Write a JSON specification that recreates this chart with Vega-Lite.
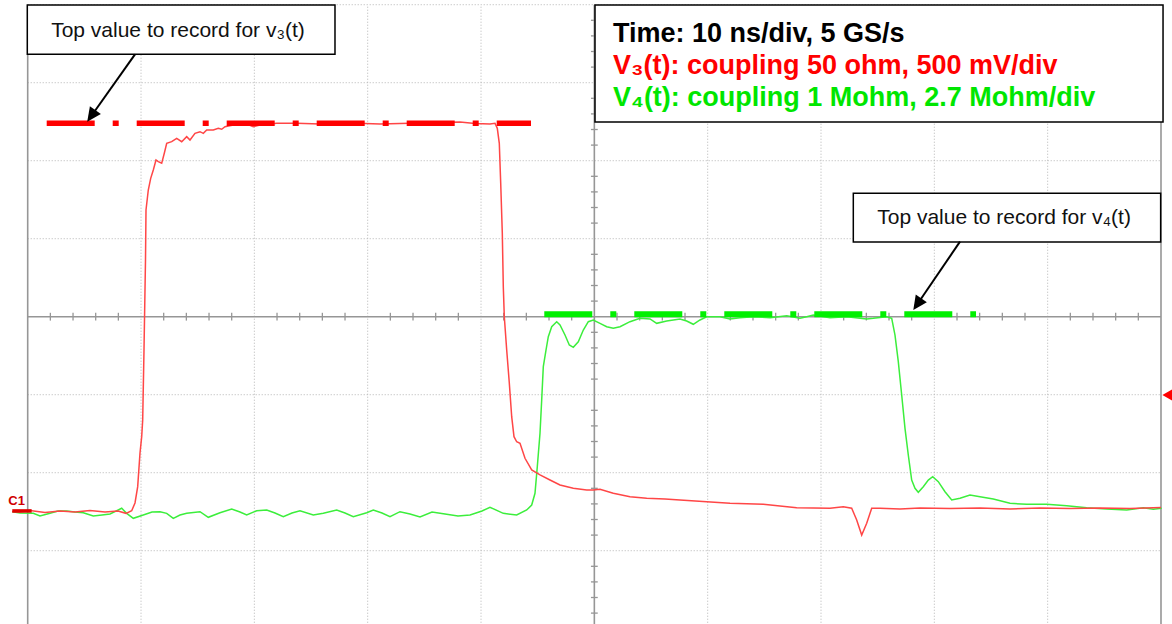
{
"$schema":"https://vega.github.io/schema/vega-lite/v6.json",
"width":1172,"height":624,
"autosize":{"type":"none"},
"padding":0,
"background":"white",
"config":{"view":{"stroke":null}},
"datasets":{
"v3":[{"t":-1.385,"v":-2.497},{"t":-0.679,"v":-2.504},{"t":0.203,"v":-2.485},{"t":1.527,"v":-2.51},{"t":2.85,"v":-2.491},{"t":4.174,"v":-2.504},{"t":5.497,"v":-2.485},{"t":6.821,"v":-2.504},{"t":7.968,"v":-2.491},{"t":8.674,"v":-2.521},{"t":9.177,"v":-2.487},{"t":9.468,"v":-2.388},{"t":9.706,"v":-2.179},{"t":9.909,"v":-1.747},{"t":10.059,"v":-1.538},{"t":10.147,"v":-1.324},{"t":10.262,"v":-0.427},{"t":10.394,"v":0.727},{"t":10.439,"v":1.368},{"t":10.641,"v":1.624},{"t":10.853,"v":1.774},{"t":11.083,"v":1.881},{"t":11.321,"v":2.009},{"t":11.524,"v":1.987},{"t":11.824,"v":1.967},{"t":12.053,"v":2.095},{"t":12.265,"v":2.223},{"t":12.706,"v":2.244},{"t":13.147,"v":2.287},{"t":13.589,"v":2.244},{"t":14.03,"v":2.308},{"t":14.321,"v":2.265},{"t":14.762,"v":2.351},{"t":15.203,"v":2.372},{"t":15.495,"v":2.351},{"t":15.795,"v":2.394},{"t":16.377,"v":2.394},{"t":16.818,"v":2.415},{"t":17.118,"v":2.403},{"t":17.409,"v":2.436},{"t":18.142,"v":2.458},{"t":19.324,"v":2.471},{"t":19.907,"v":2.436},{"t":20.498,"v":2.458},{"t":21.971,"v":2.48},{"t":23.736,"v":2.48},{"t":25.792,"v":2.471},{"t":28.439,"v":2.483},{"t":31.086,"v":2.471},{"t":33.733,"v":2.48},{"t":36.381,"v":2.49},{"t":38.145,"v":2.496},{"t":39.469,"v":2.477},{"t":40.792,"v":2.471},{"t":41.234,"v":2.48},{"t":41.437,"v":2.415},{"t":41.613,"v":2.223},{"t":41.737,"v":1.714},{"t":41.878,"v":1.073},{"t":41.966,"v":0.385},{"t":42.055,"v":0.0},{"t":42.266,"v":-0.427},{"t":42.496,"v":-0.85},{"t":42.707,"v":-1.282},{"t":42.91,"v":-1.538},{"t":43.148,"v":-1.603},{"t":43.44,"v":-1.623},{"t":43.881,"v":-1.815},{"t":44.472,"v":-1.965},{"t":45.205,"v":-2.029},{"t":46.087,"v":-2.094},{"t":46.969,"v":-2.158},{"t":48.143,"v":-2.2},{"t":49.325,"v":-2.222},{"t":49.908,"v":-2.222},{"t":50.499,"v":-2.213},{"t":51.672,"v":-2.264},{"t":53.146,"v":-2.308},{"t":54.619,"v":-2.328},{"t":56.234,"v":-2.337},{"t":57.558,"v":-2.35},{"t":59.914,"v":-2.372},{"t":61.97,"v":-2.392},{"t":64.908,"v":-2.405},{"t":67.855,"v":-2.449},{"t":70.794,"v":-2.456},{"t":71.967,"v":-2.436},{"t":72.708,"v":-2.456},{"t":73.149,"v":-2.606},{"t":73.591,"v":-2.799},{"t":74.032,"v":-2.649},{"t":74.473,"v":-2.456},{"t":75.206,"v":-2.456},{"t":76.97,"v":-2.465},{"t":78.735,"v":-2.453},{"t":81.382,"v":-2.459},{"t":84.029,"v":-2.453},{"t":86.677,"v":-2.465},{"t":89.324,"v":-2.453},{"t":91.971,"v":-2.459},{"t":94.618,"v":-2.453},{"t":97.265,"v":-2.459},{"t":100.0,"v":-2.446}],
"v4":[{"t":-1.359,"v":-2.5},{"t":-0.679,"v":-2.517},{"t":0.494,"v":-2.521},{"t":1.085,"v":-2.555},{"t":1.968,"v":-2.521},{"t":2.674,"v":-2.491},{"t":3.441,"v":-2.491},{"t":4.174,"v":-2.504},{"t":4.906,"v":-2.513},{"t":5.788,"v":-2.555},{"t":6.556,"v":-2.542},{"t":7.262,"v":-2.529},{"t":8.294,"v":-2.456},{"t":8.736,"v":-2.521},{"t":9.318,"v":-2.585},{"t":10.2,"v":-2.542},{"t":10.968,"v":-2.504},{"t":11.674,"v":-2.5},{"t":12.265,"v":-2.521},{"t":12.847,"v":-2.585},{"t":13.439,"v":-2.542},{"t":14.03,"v":-2.521},{"t":15.203,"v":-2.5},{"t":15.936,"v":-2.572},{"t":16.968,"v":-2.513},{"t":18.001,"v":-2.465},{"t":18.733,"v":-2.504},{"t":19.324,"v":-2.542},{"t":20.207,"v":-2.487},{"t":21.089,"v":-2.478},{"t":21.821,"v":-2.517},{"t":22.554,"v":-2.564},{"t":23.321,"v":-2.517},{"t":24.027,"v":-2.487},{"t":25.201,"v":-2.542},{"t":26.083,"v":-2.521},{"t":27.266,"v":-2.478},{"t":27.998,"v":-2.517},{"t":28.731,"v":-2.564},{"t":29.913,"v":-2.513},{"t":30.495,"v":-2.478},{"t":31.263,"v":-2.517},{"t":31.969,"v":-2.564},{"t":32.851,"v":-2.5},{"t":33.733,"v":-2.529},{"t":34.616,"v":-2.568},{"t":35.675,"v":-2.504},{"t":36.822,"v":-2.529},{"t":37.969,"v":-2.555},{"t":39.028,"v":-2.542},{"t":40.087,"v":-2.491},{"t":40.792,"v":-2.443},{"t":41.966,"v":-2.521},{"t":43.148,"v":-2.542},{"t":44.031,"v":-2.478},{"t":44.472,"v":-2.414},{"t":44.763,"v":-2.264},{"t":44.966,"v":-1.923},{"t":45.205,"v":-1.495},{"t":45.354,"v":-1.068},{"t":45.496,"v":-0.641},{"t":45.734,"v":-0.427},{"t":45.937,"v":-0.256},{"t":46.237,"v":-0.128},{"t":46.678,"v":-0.064},{"t":46.969,"v":-0.106},{"t":47.41,"v":-0.235},{"t":47.79,"v":-0.363},{"t":48.143,"v":-0.392},{"t":48.584,"v":-0.321},{"t":49.026,"v":-0.171},{"t":49.467,"v":-0.064},{"t":49.908,"v":-0.042},{"t":50.499,"v":-0.085},{"t":51.09,"v":-0.128},{"t":51.672,"v":-0.149},{"t":52.264,"v":-0.128},{"t":53.146,"v":-0.064},{"t":54.029,"v":-0.021},{"t":54.911,"v":-0.029},{"t":55.502,"v":-0.085},{"t":56.384,"v":-0.055},{"t":57.558,"v":-0.029},{"t":58.149,"v":-0.055},{"t":58.731,"v":-0.097},{"t":59.323,"v":-0.042},{"t":59.914,"v":0.0},{"t":61.087,"v":0.0},{"t":61.97,"v":-0.029},{"t":62.852,"v":-0.013},{"t":64.026,"v":0.0},{"t":65.499,"v":-0.013},{"t":66.973,"v":0.013},{"t":68.146,"v":-0.021},{"t":68.737,"v":0.0},{"t":69.32,"v":0.022},{"t":70.794,"v":-0.013},{"t":72.267,"v":0.0},{"t":74.032,"v":-0.029},{"t":74.615,"v":-0.021},{"t":75.796,"v":0.0},{"t":76.238,"v":-0.021},{"t":76.529,"v":-0.235},{"t":76.82,"v":-0.577},{"t":77.12,"v":-1.004},{"t":77.411,"v":-1.431},{"t":77.702,"v":-1.773},{"t":78.002,"v":-2.094},{"t":78.294,"v":-2.2},{"t":78.585,"v":-2.251},{"t":79.026,"v":-2.179},{"t":79.468,"v":-2.094},{"t":79.855,"v":-2.051},{"t":80.35,"v":-2.115},{"t":80.941,"v":-2.244},{"t":81.532,"v":-2.35},{"t":82.265,"v":-2.328},{"t":83.147,"v":-2.286},{"t":84.029,"v":-2.308},{"t":85.203,"v":-2.337},{"t":86.677,"v":-2.392},{"t":88.15,"v":-2.405},{"t":89.915,"v":-2.405},{"t":91.68,"v":-2.423},{"t":93.444,"v":-2.449},{"t":95.209,"v":-2.465},{"t":96.973,"v":-2.478},{"t":98.438,"v":-2.449},{"t":99.321,"v":-2.469},{"t":100.062,"v":-2.456}],
"hgrid":[{"v":-3},{"v":-2},{"v":-1},{"v":1},{"v":2},{"v":3},{"v":4}],
"vgrid":[{"t":10},{"t":20},{"t":30},{"t":40},{"t":60},{"t":70},{"t":80},{"t":90}],
"frame":[{"t":0},{"t":50},{"t":100}],
"hticks":[{"t":2},{"t":4},{"t":6},{"t":8},{"t":12},{"t":14},{"t":16},{"t":18},{"t":22},{"t":24},{"t":26},{"t":28},{"t":32},{"t":34},{"t":36},{"t":38},{"t":42},{"t":44},{"t":46},{"t":48},{"t":52},{"t":54},{"t":56},{"t":58},{"t":62},{"t":64},{"t":66},{"t":68},{"t":72},{"t":74},{"t":76},{"t":78},{"t":82},{"t":84},{"t":86},{"t":88},{"t":92},{"t":94},{"t":96},{"t":98}],
"vticks":[{"v":-3.8},{"v":-3.6},{"v":-3.4},{"v":-3.2},{"v":-2.8},{"v":-2.6},{"v":-2.4},{"v":-2.2},{"v":-1.8},{"v":-1.6},{"v":-1.4},{"v":-1.2},{"v":-0.8},{"v":-0.6},{"v":-0.4},{"v":-0.2},{"v":0.2},{"v":0.4},{"v":0.6},{"v":0.8},{"v":1.2},{"v":1.4},{"v":1.6},{"v":1.8},{"v":2.2},{"v":2.4},{"v":2.6},{"v":2.8},{"v":3.2},{"v":3.4},{"v":3.6},{"v":3.8}],
"markers":[{"ch":"V3","t":1.677,"t2":44.41,"v":2.479},{"ch":"V4","t":45.584,"t2":83.677,"v":0.032},{"ch":"C1","t":-1.359,"t2":0.35,"v":-2.49}],
"boxes":[{"t":-0.035,"t2":27.115,"v":3.996,"v2":3.364},{"t":50.058,"t2":100.18,"v":3.996,"v2":2.496},{"t":72.85,"t2":99.97,"v":1.582,"v2":0.958}],
"notes":[{"label":"Top value to record for v₃(t)","t":13.26,"v":3.59},{"label":"Top value to record for v₄(t)","t":86.15,"v":1.188}],
"legend":[{"line":"time","label":"Time: 10 ns/div, 5 GS/s","t":51.646,"v":3.522},{"line":"V3","label":"V₃(t): coupling 50 ohm, 500 mV/div","t":51.646,"v":3.112},{"line":"V4","label":"V₄(t): coupling 1 Mohm, 2.7 Mohm/div","t":51.646,"v":2.701}],
"arrows":[{"t":9.468,"v":3.364,"t2":5.612,"v2":2.573,"ang":215.3},{"t":82.264,"v":0.962,"t2":78.497,"v2":0.16,"ang":214.4}],
"ground":[{"label":"C1","t":-1.712,"v":-2.414}],
"trigger":[{"t":100.59,"v":-1.004}]
},
"layer":[
{"data":{"name":"hgrid"},"mark":{"type":"rule","stroke":"#b4b4b4","strokeWidth":1,"strokeDash":[1,2]},
 "encoding":{"y":{"field":"v","type":"quantitative","scale":{"domain":[-3.9397,4.0603],"nice":false,"zero":false},"axis":null},
 "x":{"datum":0,"type":"quantitative","scale":{"domain":[-2.444,100.971],"nice":false,"zero":false},"axis":null},"x2":{"datum":100}}},
{"data":{"name":"vgrid"},"mark":{"type":"rule","stroke":"#b4b4b4","strokeWidth":1,"strokeDash":[1,2]},
 "encoding":{"x":{"field":"t","type":"quantitative","axis":null},"y":{"datum":-4,"type":"quantitative"},"y2":{"datum":4}}},
{"data":{"name":"frame"},"mark":{"type":"rule","stroke":"#969696","strokeWidth":1.6},
 "encoding":{"x":{"field":"t","type":"quantitative","axis":null},"y":{"datum":-4,"type":"quantitative"},"y2":{"datum":4}}},
{"data":{"name":"hgrid"},"transform":[{"filter":"datum.v === 4"}],"mark":{"type":"rule","stroke":"#969696","strokeWidth":1.6},
 "encoding":{"y":{"datum":0,"type":"quantitative"},"x":{"datum":0,"type":"quantitative"},"x2":{"datum":100}}},
{"data":{"name":"hticks"},"mark":{"type":"rule","stroke":"#969696","strokeWidth":1.3},
 "encoding":{"x":{"field":"t","type":"quantitative"},"y":{"datum":-0.05,"type":"quantitative"},"y2":{"datum":0.05}}},
{"data":{"name":"vticks"},"mark":{"type":"rule","stroke":"#969696","strokeWidth":1.3},
 "encoding":{"y":{"field":"v","type":"quantitative"},"x":{"datum":49.7,"type":"quantitative"},"x2":{"datum":50.3}}},
{"data":{"name":"v4"},"mark":{"type":"line","stroke":"#3cee3c","strokeWidth":1.5,"interpolate":"linear"},
 "encoding":{"x":{"field":"t","type":"quantitative"},"y":{"field":"v","type":"quantitative"}}},
{"data":{"name":"v3"},"mark":{"type":"line","stroke":"#ff4646","strokeWidth":1.5,"interpolate":"linear"},
 "encoding":{"x":{"field":"t","type":"quantitative"},"y":{"field":"v","type":"quantitative"}}},
{"data":{"name":"markers"},"transform":[{"filter":"datum.ch === 'V3'"}],"mark":{"type":"rule","stroke":"#ff0000","strokeWidth":5.5,"strokeDash":[48,18,6,18],"strokeCap":"butt"},
 "encoding":{"x":{"field":"t","type":"quantitative"},"x2":{"field":"t2"},"y":{"field":"v","type":"quantitative"}}},
{"data":{"name":"markers"},"transform":[{"filter":"datum.ch === 'V4'"}],"mark":{"type":"rule","stroke":"#00f000","strokeWidth":6,"strokeDash":[48,18,6,18],"strokeCap":"butt"},
 "encoding":{"x":{"field":"t","type":"quantitative"},"x2":{"field":"t2"},"y":{"field":"v","type":"quantitative"}}},
{"data":{"name":"markers"},"transform":[{"filter":"datum.ch === 'C1'"}],"mark":{"type":"rule","stroke":"#e00000","strokeWidth":3.5,"strokeCap":"butt"},
 "encoding":{"x":{"field":"t","type":"quantitative"},"x2":{"field":"t2"},"y":{"field":"v","type":"quantitative"}}},
{"data":{"name":"ground"},"mark":{"type":"text","font":"Liberation Sans","fontWeight":"bold","fontSize":13,"fill":"#d00000","align":"left","baseline":"alphabetic"},
 "encoding":{"x":{"field":"t","type":"quantitative"},"y":{"field":"v","type":"quantitative"},"text":{"field":"label"}}},
{"data":{"name":"trigger"},"mark":{"type":"point","shape":"triangle-left","filled":true,"fill":"#ff0000","size":150,"opacity":1},
 "encoding":{"x":{"field":"t","type":"quantitative"},"y":{"field":"v","type":"quantitative"}}},
{"data":{"name":"boxes"},"mark":{"type":"rect","fill":"white","stroke":"#000000","strokeWidth":1.5},
 "encoding":{"x":{"field":"t","type":"quantitative"},"x2":{"field":"t2"},"y":{"field":"v","type":"quantitative"},"y2":{"field":"v2"}}},
{"data":{"name":"notes"},"mark":{"type":"text","font":"Liberation Sans","fontSize":21,"fill":"#111111","align":"center","baseline":"alphabetic"},
 "encoding":{"x":{"field":"t","type":"quantitative"},"y":{"field":"v","type":"quantitative"},"text":{"field":"label"}}},
{"data":{"name":"legend"},"transform":[{"filter":"datum.line === 'time'"}],"mark":{"type":"text","font":"Liberation Sans","fontWeight":"bold","fontSize":27,"fill":"#000000","align":"left","baseline":"alphabetic"},
 "encoding":{"x":{"field":"t","type":"quantitative"},"y":{"field":"v","type":"quantitative"},"text":{"field":"label"}}},
{"data":{"name":"legend"},"transform":[{"filter":"datum.line === 'V3'"}],"mark":{"type":"text","font":"Liberation Sans","fontWeight":"bold","fontSize":27,"fill":"#ff0000","align":"left","baseline":"alphabetic"},
 "encoding":{"x":{"field":"t","type":"quantitative"},"y":{"field":"v","type":"quantitative"},"text":{"field":"label"}}},
{"data":{"name":"legend"},"transform":[{"filter":"datum.line === 'V4'"}],"mark":{"type":"text","font":"Liberation Sans","fontWeight":"bold","fontSize":27,"fill":"#00e600","align":"left","baseline":"alphabetic"},
 "encoding":{"x":{"field":"t","type":"quantitative"},"y":{"field":"v","type":"quantitative"},"text":{"field":"label"}}},
{"data":{"name":"arrows"},"mark":{"type":"rule","stroke":"#000000","strokeWidth":2},
 "encoding":{"x":{"field":"t","type":"quantitative"},"y":{"field":"v","type":"quantitative"},"x2":{"field":"t2"},"y2":{"field":"v2"}}},
{"data":{"name":"arrows"},"mark":{"type":"point","shape":"M0,-1L0.95,1L-0.95,1Z","filled":true,"fill":"#000000","size":200,"opacity":1},
 "encoding":{"x":{"field":"t2","type":"quantitative"},"y":{"field":"v2","type":"quantitative"},"angle":{"field":"ang","type":"quantitative","scale":null}}}
]
}
